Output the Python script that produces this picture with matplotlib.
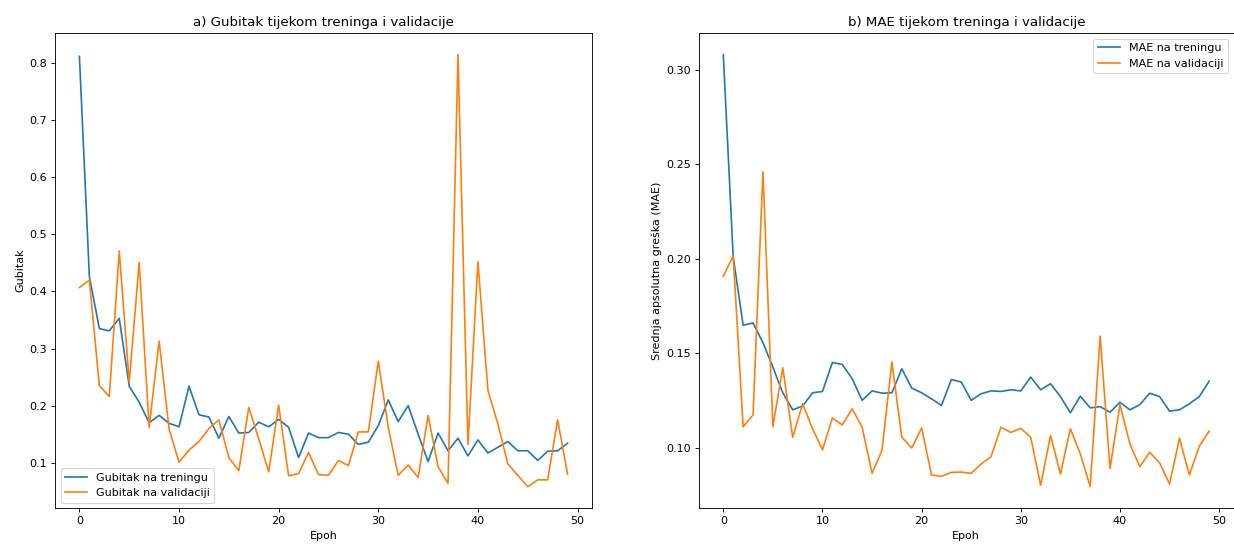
import matplotlib
matplotlib.use("Agg")
import matplotlib.pyplot as plt
import numpy as np

epochs = list(range(50))

train_loss = [0.812, 0.426, 0.335, 0.331, 0.353, 0.234, 0.206, 0.170, 0.183, 0.169,
              0.163, 0.234, 0.184, 0.180, 0.143, 0.181, 0.152, 0.153, 0.171, 0.163,
              0.176, 0.162, 0.109, 0.152, 0.144, 0.144, 0.153, 0.150, 0.132, 0.136,
              0.165, 0.210, 0.172, 0.200, 0.150, 0.102, 0.152, 0.121, 0.143, 0.112,
              0.140, 0.117, 0.127, 0.137, 0.121, 0.121, 0.104, 0.120, 0.121, 0.134]

val_loss = [0.407, 0.420, 0.235, 0.216, 0.471, 0.241, 0.451, 0.162, 0.313, 0.159,
            0.101, 0.122, 0.137, 0.160, 0.175, 0.109, 0.086, 0.197, 0.142, 0.084,
            0.201, 0.077, 0.081, 0.118, 0.079, 0.078, 0.104, 0.095, 0.154, 0.154,
            0.278, 0.162, 0.078, 0.096, 0.074, 0.183, 0.093, 0.064, 0.815, 0.132,
            0.452, 0.227, 0.168, 0.098, 0.078, 0.058, 0.070, 0.070, 0.175, 0.080]

train_mae = [0.308, 0.201, 0.1647, 0.166, 0.1555, 0.1426, 0.129, 0.120, 0.122, 0.129,
             0.1297, 0.145, 0.144, 0.1364, 0.125, 0.130, 0.1288, 0.129, 0.1417, 0.1315,
             0.129, 0.1258, 0.1223, 0.136, 0.1347, 0.125, 0.1285, 0.130, 0.1297, 0.1306,
             0.130, 0.1373, 0.1306, 0.1338, 0.127, 0.1184, 0.1272, 0.121, 0.1217, 0.1187,
             0.124, 0.120, 0.1227, 0.1288, 0.127, 0.1193, 0.120, 0.1232, 0.127, 0.1352]

val_mae = [0.1907, 0.2015, 0.111, 0.1173, 0.246, 0.111, 0.1423, 0.1055, 0.1232, 0.110,
           0.0988, 0.1156, 0.112, 0.1205, 0.1108, 0.0864, 0.0984, 0.1453, 0.1055, 0.0998,
           0.1104, 0.0855, 0.0848, 0.0869, 0.087, 0.0864, 0.0913, 0.0952, 0.1108, 0.108,
           0.1102, 0.1055, 0.080, 0.1064, 0.086, 0.110, 0.0967, 0.0793, 0.159, 0.089,
           0.1227, 0.102, 0.0899, 0.0975, 0.0919, 0.0807, 0.105, 0.0855, 0.1007, 0.1087]

DPI = 80
fig = plt.figure(figsize=(1234 / DPI, 545 / DPI), dpi=DPI)
ax1 = fig.add_axes([55/1234, 1-508.3/545, (592-55)/1234, (508.3-33)/545])
ax2 = fig.add_axes([699/1234, 1-508.3/545, (1233.5-699)/1234, (508.3-33)/545])

ax1.plot(epochs, train_loss, label='Gubitak na treningu')
ax1.plot(epochs, val_loss, label='Gubitak na validaciji')
ax1.set_title('a) Gubitak tijekom treninga i validacije')
ax1.set_xlabel('Epoh')
ax1.set_ylabel('Gubitak')
ax1.legend(loc='lower left')

ax2.plot(epochs, train_mae, label='MAE na treningu')
ax2.plot(epochs, val_mae, label='MAE na validaciji')
ax2.set_title('b) MAE tijekom treninga i validacije')
ax2.set_xlabel('Epoh')
ax2.set_ylabel('Srednja apsolutna greška (MAE)')
ax2.legend(loc='upper right')

fig.savefig('out.png', dpi=DPI)
